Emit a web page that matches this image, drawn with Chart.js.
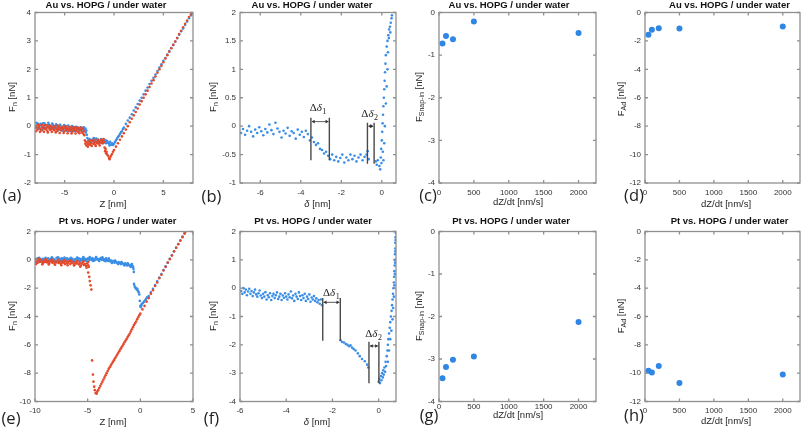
<!DOCTYPE html>
<html><head><meta charset="utf-8">
<script src="https://cdn.jsdelivr.net/npm/chart.js@4.4.0/dist/chart.umd.min.js"></script>
<style>
html,body{margin:0;padding:0;background:#fff;overflow:hidden;width:803px;height:428px;}
#wrap{position:relative;width:803px;height:428px;overflow:hidden;}
canvas{position:absolute;}
.lbl{position:absolute;font-family:"Liberation Sans",Arial,sans-serif;font-size:9.5px;color:#262626;white-space:nowrap;transform:translate(-50%,-50%);line-height:1;}
.rot{transform:translate(-50%,-50%) rotate(-90deg);}
.lbl sub{font-size:7px;vertical-align:-2px;line-height:0;}
.pl{position:absolute;font-family:"Open Sans",sans-serif;font-size:16.5px;color:#222;transform:translate(-50%,-50%);line-height:1;white-space:nowrap;}
</style></head>
<body><div id="wrap"></div>
<script>
// ---------- DATA ----------
// (a) Au vs HOPG force-distance curve: Z [nm], Fn [nN]
const aBlue = [[-7.9,0.02],[-7.8,-0.05],[-7.7,0.08],[-7.6,0.0],[-7.5,-0.08],[-7.4,0.05],[-7.3,-0.02],[-7.2,0.1],[-7.1,-0.06],[-7.0,0.03],[-6.9,-0.1],[-6.8,0.04],[-6.7,-0.03],[-6.6,0.06],[-6.5,-0.07],[-6.4,0.01],[-6.3,-0.04],[-6.2,0.05],[-6.1,-0.09],[-6.0,0.0],[-5.9,-0.05],[-5.8,0.03],[-5.7,-0.1],[-5.6,-0.02],[-5.5,0.02],[-5.4,-0.08],[-5.3,-0.03],[-5.2,-0.12],[-5.1,0.0],[-5.0,-0.06],[-4.9,-0.1],[-4.8,-0.02],[-4.7,-0.08],[-4.6,-0.14],[-4.5,-0.04],[-4.4,-0.1],[-4.3,-0.06],[-4.2,-0.13],[-4.1,-0.03],[-4.0,-0.09],[-3.9,-0.15],[-3.8,-0.05],[-3.7,-0.11],[-3.6,-0.07],[-3.5,-0.14],[-3.4,-0.04],[-3.3,-0.1],[-3.2,-0.16],[-3.1,-0.06],[-3.0,-0.12],[-2.9,-0.08],[-2.8,-0.15],[-2.75,-0.3],[-2.7,-0.42],[-2.6,-0.5],[-2.5,-0.45],[-2.4,-0.55],[-2.3,-0.48],[-2.2,-0.52],[-2.1,-0.46],[-2.0,-0.56],[-1.9,-0.5],[-1.8,-0.44],[-1.7,-0.54],[-1.6,-0.48],[-1.5,-0.58],[-1.4,-0.5],[-1.3,-0.45],[-1.2,-0.55],[-1.1,-0.6],[-1.0,-0.5],[-0.9,-0.56],[-0.8,-0.6],[-0.7,-0.52],[-0.6,-0.58],[-0.5,-0.62],[-0.4,-0.55],[-0.3,-0.65],[-0.2,-0.6],[-0.1,-0.66],[0.0,-0.62],[0.1,-0.56],[0.2,-0.5],[0.3,-0.44],[0.4,-0.38],[0.5,-0.34],[0.6,-0.28],[0.7,-0.22],[0.8,-0.18],[0.9,-0.1],[1.0,-0.05],[1.2,0.08],[1.4,0.2],[1.6,0.3],[1.8,0.42],[2.0,0.55],[2.2,0.66],[2.4,0.78],[2.6,0.9],[2.8,1.0],[3.0,1.12],[3.2,1.25],[3.4,1.36],[3.6,1.48],[3.8,1.6],[4.0,1.7],[4.2,1.82],[4.4,1.94],[4.6,2.06],[4.8,2.18],[5.0,2.3],[5.2,2.4],[5.4,2.52],[5.6,2.64],[5.8,2.75],[6.0,2.86],[6.2,2.98],[6.4,3.1],[6.6,3.22],[6.8,3.34],[7.0,3.44],[7.2,3.56],[7.4,3.68],[7.6,3.8],[7.8,3.9],[7.95,3.98],
  [-7.85,0.12],[-7.65,-0.1],[-7.45,0.08],[-7.25,-0.12],[-7.05,0.1],[-6.85,-0.08],[-6.65,0.12],[-6.45,-0.12],[-6.25,0.09],[-6.05,-0.1],[-5.85,0.07],[-5.65,-0.14],[-5.45,0.05],[-5.25,-0.15],[-5.05,0.04],[-4.85,-0.16],[-4.65,0.02],[-4.45,-0.18],[-4.25,0.0],[-4.05,-0.18],[-3.85,-0.02],[-3.65,-0.2],[-3.45,-0.08],[-3.25,-0.2],[-3.05,-0.04],[-2.85,-0.22],[-2.45,-0.6],[-2.05,-0.42],[-1.65,-0.6],[-1.25,-0.48],[-0.85,-0.5],[-0.45,-0.68]];
const aRed = [[-7.95,-0.05],[-7.85,0.0],[-7.75,-0.12],[-7.65,-0.04],[-7.55,0.03],[-7.45,-0.09],[-7.35,-0.15],[-7.25,-0.02],[-7.15,-0.07],[-7.05,0.02],[-6.95,-0.11],[-6.85,-0.05],[-6.75,-0.16],[-6.65,-0.01],[-6.55,-0.08],[-6.45,-0.13],[-6.35,-0.03],[-6.25,-0.1],[-6.15,-0.06],[-6.05,-0.14],[-5.95,-0.02],[-5.85,-0.09],[-5.75,-0.17],[-5.65,-0.05],[-5.55,-0.11],[-5.45,-0.07],[-5.35,-0.15],[-5.25,-0.04],[-5.15,-0.1],[-5.05,-0.18],[-4.95,-0.06],[-4.85,-0.12],[-4.75,-0.08],[-4.65,-0.16],[-4.55,-0.1],[-4.45,-0.05],[-4.35,-0.14],[-4.25,-0.2],[-4.15,-0.09],[-4.05,-0.13],[-3.95,-0.06],[-3.85,-0.17],[-3.75,-0.11],[-3.65,-0.2],[-3.55,-0.08],[-3.45,-0.15],[-3.35,-0.12],[-3.25,-0.22],[-3.15,-0.1],[-3.05,-0.18],[-3.0,-0.32],[-2.95,-0.5],[-2.9,-0.62],[-2.8,-0.68],[-2.7,-0.58],[-2.6,-0.64],[-2.5,-0.55],[-2.4,-0.66],[-2.3,-0.6],[-2.2,-0.52],[-2.1,-0.62],[-2.0,-0.58],[-1.9,-0.65],[-1.8,-0.55],[-1.7,-0.6],[-1.6,-0.53],[-1.5,-0.62],[-1.4,-0.57],[-1.3,-0.5],[-1.2,-0.6],[-1.1,-0.52],[-1.0,-0.56],[-0.95,-0.75],[-0.9,-0.88],[-0.85,-0.8],[-0.8,-0.95],[-0.75,-0.9],[-0.7,-1.0],[-0.6,-1.04],[-0.5,-1.12],[-0.45,-1.16],[-0.4,-1.1],[-0.3,-1.04],[-0.2,-0.98],[-0.1,-0.9],[0.0,-0.84],[0.2,-0.72],[0.4,-0.6],[0.6,-0.48],[0.8,-0.36],[1.0,-0.25],[1.2,-0.12],[1.4,0.0],[1.6,0.14],[1.8,0.26],[2.0,0.38],[2.2,0.5],[2.4,0.62],[2.6,0.76],[2.8,0.88],[3.0,1.0],[3.2,1.12],[3.4,1.25],[3.6,1.38],[3.8,1.5],[4.0,1.62],[4.2,1.75],[4.4,1.88],[4.6,2.0],[4.8,2.12],[5.0,2.25],[5.2,2.38],[5.4,2.5],[5.6,2.62],[5.8,2.74],[6.0,2.86],[6.2,2.98],[6.4,3.1],[6.6,3.24],[6.8,3.36],[7.0,3.48],[7.2,3.6],[7.4,3.72],[7.6,3.84],[7.8,3.94],[7.9,4.0],
  [-7.9,-0.18],[-7.7,0.06],[-7.5,-0.2],[-7.3,0.05],[-7.1,-0.2],[-6.9,0.04],[-6.7,-0.22],[-6.5,0.02],[-6.3,-0.2],[-6.1,0.0],[-5.9,-0.22],[-5.7,0.02],[-5.5,-0.24],[-5.3,-0.02],[-5.1,-0.24],[-4.9,0.0],[-4.7,-0.25],[-4.5,-0.02],[-4.3,-0.26],[-4.1,-0.03],[-3.9,-0.26],[-3.7,-0.04],[-3.5,-0.25],[-3.3,-0.05],[-3.1,-0.27],[-2.85,-0.55],[-2.65,-0.72],[-2.45,-0.5],[-2.25,-0.7],[-2.05,-0.48],[-1.85,-0.7],[-1.65,-0.47],[-1.45,-0.68],[-1.25,-0.48],[-1.05,-0.45]];
// (b) Au vs HOPG: delta [nm], Fn [nN]
const bBlue = [[-6.95,-0.12],[-6.85,-0.05],[-6.75,-0.15],[-6.65,-0.08],[-6.55,0.0],[-6.45,-0.1],[-6.35,-0.18],[-6.25,-0.06],[-6.15,-0.12],[-6.05,-0.02],[-5.95,-0.09],[-5.85,-0.16],[-5.75,-0.05],[-5.65,-0.11],[-5.55,0.03],[-5.45,-0.07],[-5.35,-0.14],[-5.25,0.06],[-5.15,-0.04],[-5.05,-0.1],[-4.95,-0.2],[-4.85,-0.08],[-4.75,-0.13],[-4.65,-0.03],[-4.55,-0.17],[-4.45,-0.09],[-4.35,-0.12],[-4.25,-0.22],[-4.15,-0.06],[-4.05,-0.15],[-3.95,-0.1],[-3.85,-0.19],[-3.75,-0.08],[-3.65,-0.14],[-3.55,-0.25],[-3.45,-0.2],[-3.35,-0.28],[-3.25,-0.33],[-3.15,-0.3],[-3.05,-0.4],[-2.95,-0.42],[-2.85,-0.48],[-2.75,-0.45],[-2.65,-0.52],[-2.55,-0.58],[-2.45,-0.5],[-2.35,-0.6],[-2.25,-0.54],[-2.15,-0.62],[-2.05,-0.56],[-1.95,-0.5],[-1.85,-0.64],[-1.75,-0.55],[-1.65,-0.6],[-1.55,-0.5],[-1.45,-0.58],[-1.35,-0.52],[-1.25,-0.62],[-1.15,-0.55],[-1.05,-0.5],[-0.95,-0.6],[-0.85,-0.54],[-0.75,-0.5],[-0.7,-0.44],[-0.65,-0.58],[-0.3,-0.62],[-0.25,-0.68],[-0.2,-0.6],[-0.12,-0.7],[-0.08,-0.76],[-0.05,-0.55],[-0.03,-0.4],[0.0,-0.25],[0.02,-0.1],[0.04,0.05],[0.06,0.2],[0.08,0.35],[0.1,0.5],[0.12,0.65],[0.14,0.8],[0.16,0.95],[0.18,1.1],[0.2,1.25],[0.24,1.4],[0.28,1.5],[0.32,1.6],[0.36,1.7],[0.4,1.75],[0.44,1.82],[0.48,1.9],[0.08,-0.6],[0.12,-0.3],[0.15,0.0],[0.2,0.4],[0.24,0.7],[0.28,1.0],[0.3,1.3],[0.35,1.55],[0.42,1.65],[0.5,1.95],[-0.02,-0.65],[0.05,-0.45]];
const bDeltaX1 = [-3.5, -0.71];
const bDeltaX2 = [-2.59, -0.38];
const bDeltaTop = [0.15, 0.06];
const bDeltaBottom = [-0.6, -0.66];
const bDeltaArrowY = [0.08, 0.0];
const bDeltaLabelX = [-3.15, -0.6];
const bDeltaLabelY = [0.33, 0.22];
const deltaIndex = ['1', '2'];
// (c),(d),(g),(h): approach speed dZ/dt [nm/s]
const rates = [50, 100, 200, 500, 2000];
const cSnapIn = [-0.73, -0.55, -0.63, -0.21, -0.48];
const dAdhesion = [-1.56, -1.21, -1.1, -1.12, -0.98];
const gSnapIn = [-3.45, -3.19, -3.02, -2.94, -2.13];
const hAdhesion = [-9.83, -9.95, -9.5, -10.7, -10.1];
// (e) Pt vs HOPG force-distance curve
const eBlue = [[-9.95,0.05],[-9.85,-0.08],[-9.75,0.1],[-9.65,-0.02],[-9.55,0.06],[-9.45,-0.1],[-9.35,0.0],[-9.25,0.08],[-9.15,-0.05],[-9.05,0.04],[-8.95,-0.12],[-8.85,0.02],[-8.75,0.1],[-8.65,-0.06],[-8.55,0.05],[-8.45,-0.03],[-8.35,0.12],[-8.25,-0.08],[-8.15,0.03],[-8.05,-0.1],[-7.95,0.15],[-7.85,0.0],[-7.75,-0.06],[-7.65,0.08],[-7.55,-0.04],[-7.45,0.1],[-7.35,-0.02],[-7.25,0.06],[-7.15,-0.08],[-7.05,0.03],[-6.95,0.1],[-6.85,-0.05],[-6.75,0.05],[-6.65,-0.1],[-6.55,0.02],[-6.45,0.08],[-6.35,-0.04],[-6.25,0.0],[-6.15,0.06],[-6.05,-0.08],[-5.95,0.03],[-5.85,0.1],[-5.75,-0.05],[-5.65,0.05],[-5.55,-0.02],[-5.45,0.12],[-5.35,0.0],[-5.25,0.08],[-5.15,-0.03],[-5.05,0.06],[-4.95,0.1],[-4.85,-0.02],[-4.75,0.08],[-4.65,0.0],[-4.55,0.12],[-4.45,0.04],[-4.35,-0.04],[-4.25,0.1],[-4.15,0.02],[-4.05,0.08],[-3.95,-0.03],[-3.85,0.05],[-3.75,0.12],[-3.65,0.0],[-3.55,0.06],[-3.45,-0.05],[-3.35,0.03],[-3.25,0.1],[-3.15,-0.02],[-3.05,-0.08],[-2.95,0.0],[-2.85,-0.12],[-2.75,-0.05],[-2.65,-0.15],[-2.55,-0.08],[-2.45,-0.2],[-2.35,-0.12],[-2.25,-0.18],[-2.15,-0.25],[-2.05,-0.15],[-1.95,-0.22],[-1.85,-0.3],[-1.75,-0.2],[-1.65,-0.28],[-1.55,-0.35],[-1.45,-0.25],[-1.35,-0.32],[-1.25,-0.4],[-1.15,-0.3],[-1.05,-0.38],[-0.95,-0.45],[-0.85,-0.35],[-0.75,-0.42],[-0.68,-0.5],[-0.65,-0.65],[-0.62,-0.85],[-0.6,-1.7],[-0.55,-1.85],[-0.5,-1.95],[-0.42,-2.0],[-0.35,-2.1],[-0.28,-2.05],[-0.22,-2.2],[-0.15,-2.3],[-0.1,-2.45],[-0.05,-2.9],[0.0,-3.25],[0.05,-3.35],[0.1,-3.2],[0.15,-3.1],[0.25,-3.05],[0.35,-2.95],[0.45,-2.85],[0.55,-2.75],[0.65,-2.65],[0.8,-2.55],[1.0,-2.3],[1.2,-2.05],[1.4,-1.78],[1.6,-1.52],[1.8,-1.25],[2.0,-1.0],[2.2,-0.72],[2.4,-0.46],[2.6,-0.2],[2.8,0.08],[3.0,0.33],[3.2,0.6],[3.4,0.86],[3.6,1.12],[3.8,1.38],[4.0,1.64],[4.2,1.9],
  [-9.9,-0.15],[-9.6,0.15],[-9.3,-0.15],[-9.0,0.15],[-8.7,-0.15],[-8.4,0.18],[-8.1,-0.14],[-7.8,0.18],[-7.5,-0.14],[-7.2,0.16],[-6.9,-0.14],[-6.6,0.15],[-6.3,-0.12],[-6.0,0.16],[-5.7,-0.12],[-5.4,0.2],[-5.1,-0.1],[-4.8,0.2],[-4.5,-0.08],[-4.2,0.2],[-3.9,-0.08],[-3.6,0.18],[-3.3,-0.1],[-3.0,0.1],[-2.7,-0.22],[-2.4,-0.05],[-2.1,-0.3],[-1.8,-0.15],[-1.5,-0.4],[-1.2,-0.25],[-0.9,-0.5],[-0.8,-0.3]];
const eRed = [[-9.95,-0.1],[-9.85,0.0],[-9.75,-0.2],[-9.65,-0.05],[-9.55,-0.15],[-9.45,0.02],[-9.35,-0.12],[-9.25,-0.22],[-9.15,-0.08],[-9.05,-0.16],[-8.95,-0.03],[-8.85,-0.18],[-8.75,-0.1],[-8.65,-0.25],[-8.55,-0.06],[-8.45,-0.14],[-8.35,-0.2],[-8.25,-0.09],[-8.15,-0.27],[-8.05,-0.12],[-7.95,-0.19],[-7.85,-0.05],[-7.75,-0.22],[-7.65,-0.13],[-7.55,-0.28],[-7.45,-0.1],[-7.35,-0.2],[-7.25,-0.16],[-7.15,-0.3],[-7.05,-0.12],[-6.95,-0.24],[-6.85,-0.18],[-6.75,-0.08],[-6.65,-0.3],[-6.55,-0.2],[-6.45,-0.14],[-6.35,-0.26],[-6.25,-0.34],[-6.15,-0.18],[-6.05,-0.25],[-5.95,-0.12],[-5.85,-0.32],[-5.75,-0.22],[-5.65,-0.4],[-5.55,-0.28],[-5.45,-0.18],[-5.35,-0.36],[-5.25,-0.3],[-5.15,-0.44],[-5.05,-0.26],[-4.95,-0.38],[-4.9,-0.5],[-4.95,-0.9],[-4.85,-1.2],[-4.8,-1.5],[-4.72,-1.8],[-4.65,-2.1],[-4.58,-7.1],[-4.5,-8.1],[-4.45,-8.6],[-4.38,-8.95],[-4.32,-9.2],[-4.25,-9.4],[-4.15,-9.45],[-4.0,-9.2],[-3.8,-8.9],[-3.6,-8.6],[-3.4,-8.3],[-3.2,-8.0],[-3.0,-7.7],[-2.8,-7.45],[-2.6,-7.2],[-2.4,-6.95],[-2.2,-6.7],[-2.0,-6.45],[-1.8,-6.2],[-1.6,-5.95],[-1.4,-5.7],[-1.2,-5.45],[-1.0,-5.2],[-0.8,-4.9],[-0.6,-4.6],[-0.4,-4.35],[-0.2,-4.05],[0.0,-3.8],[0.2,-3.5],[0.4,-3.25],[0.6,-2.95],[0.8,-2.7],[1.0,-2.4],[1.2,-2.15],[1.4,-1.85],[1.6,-1.6],[1.8,-1.3],[2.0,-1.05],[2.2,-0.75],[2.4,-0.5],[2.6,-0.2],[2.8,0.05],[3.0,0.3],[3.2,0.6],[3.4,0.85],[3.6,1.1],[3.8,1.35],[4.0,1.6],[4.2,1.85],[4.3,2.0],
  [-9.9,-0.3],[-9.6,0.08],[-9.3,-0.32],[-9.0,0.05],[-8.7,-0.33],[-8.4,0.02],[-8.1,-0.35],[-7.8,0.0],[-7.5,-0.38],[-7.2,-0.02],[-6.9,-0.38],[-6.6,-0.05],[-6.3,-0.4],[-6.0,-0.08],[-5.7,-0.48],[-5.4,-0.1],[-5.1,-0.55],[-4.95,-0.15],[-4.1,-9.32],[-3.9,-9.05],[-3.7,-8.75],[-3.5,-8.45],[-3.3,-8.15],[-3.1,-7.85],[-2.9,-7.58],[-2.7,-7.32],[-2.5,-7.08],[-2.3,-6.82],[-2.1,-6.58],[-1.9,-6.32],[-1.7,-6.08],[-1.5,-5.82],[-1.3,-5.58],[-1.1,-5.32],[-0.9,-5.05],[-0.7,-4.75],[-0.5,-4.48],[-0.3,-4.2],[-0.1,-3.92]];
// (f) Pt vs HOPG: delta [nm], Fn [nN]
const fBlue = [[-5.95,-0.1],[-5.9,-0.2],[-5.85,0.0],[-5.8,-0.15],[-5.75,-0.05],[-5.7,-0.25],[-5.65,-0.12],[-5.6,-0.02],[-5.55,-0.2],[-5.5,-0.1],[-5.45,-0.28],[-5.4,-0.15],[-5.35,-0.05],[-5.3,-0.22],[-5.25,-0.3],[-5.2,-0.18],[-5.15,-0.08],[-5.1,-0.26],[-5.05,-0.35],[-5.0,-0.2],[-4.95,-0.3],[-4.9,-0.14],[-4.85,-0.4],[-4.8,-0.25],[-4.75,-0.32],[-4.7,-0.18],[-4.65,-0.42],[-4.6,-0.28],[-4.55,-0.2],[-4.5,-0.35],[-4.45,-0.25],[-4.4,-0.15],[-4.35,-0.38],[-4.3,-0.3],[-4.25,-0.2],[-4.2,-0.42],[-4.15,-0.26],[-4.1,-0.34],[-4.05,-0.18],[-4.0,-0.3],[-3.95,-0.4],[-3.9,-0.22],[-3.85,-0.32],[-3.8,-0.12],[-3.75,-0.36],[-3.7,-0.26],[-3.65,-0.45],[-3.6,-0.2],[-3.55,-0.3],[-3.5,-0.38],[-3.45,-0.15],[-3.4,-0.28],[-3.35,-0.42],[-3.3,-0.25],[-3.25,-0.35],[-3.2,-0.2],[-3.15,-0.45],[-3.1,-0.3],[-3.05,-0.38],[-3.0,-0.22],[-2.95,-0.48],[-2.9,-0.33],[-2.85,-0.4],[-2.8,-0.28],[-2.75,-0.45],[-2.7,-0.36],[-2.65,-0.5],[-2.6,-0.42],[-2.55,-0.55],[-2.5,-0.4],[-2.45,-0.6],[-1.65,-1.84],[-1.58,-1.9],[-1.5,-1.92],[-1.42,-1.97],[-1.35,-2.0],[-1.28,-2.05],[-1.22,-2.02],[-1.15,-2.1],[-1.08,-2.15],[-1.0,-2.2],[-0.9,-2.3],[-0.82,-2.4],[-0.72,-2.5],[-0.6,-2.58],[-0.5,-2.7],[-0.45,-2.8],[0.0,-3.3],[0.03,-3.2],[0.06,-3.35],[0.1,-3.1],[0.12,-3.25],[0.15,-3.0],[0.18,-3.15],[0.2,-2.9],[0.22,-3.05],[0.25,-2.8],[0.28,-2.95],[0.3,-2.6],[0.32,-2.75],[0.35,-2.4],[0.38,-2.2],[0.4,-2.0],[0.42,-1.8],[0.45,-1.6],[0.48,-1.4],[0.5,-1.2],[0.53,-1.0],[0.56,-0.8],[0.58,-0.6],[0.6,-0.4],[0.62,-0.2],[0.64,0.0],[0.66,0.2],[0.67,0.4],[0.68,0.6],[0.69,0.8],[0.7,1.0],[0.71,1.2],[0.72,1.4],[0.72,1.6],[0.73,1.8],[0.74,1.95],[0.4,-2.6],[0.45,-2.2],[0.5,-1.8],[0.55,-1.5],[0.6,-1.1],[0.63,-0.7],[0.66,-0.3],[0.68,0.1],[0.7,0.5],[0.71,0.9],[0.72,1.3],[0.73,1.7]];
const fDeltaX1 = [-2.42, -0.42];
const fDeltaX2 = [-1.66, 0.01];
const fDeltaTop = [-0.35, -1.89];
const fDeltaBottom = [-1.86, -3.36];
const fDeltaArrowY = [-0.5, -2.04];
const fDeltaLabelX = [-2.05, -0.22];
const fDeltaLabelY = [-0.15, -1.6];
// tick values
const aXTicks = [-5, 0, 5], aYTicks = [-2, -1, 0, 1, 2, 3, 4];
const bXTicks = [-6, -4, -2, 0], bYTicks = [-1, -0.5, 0, 0.5, 1, 1.5, 2];
const rateTicks = [0, 500, 1000, 1500, 2000];
const snapTicks = [-4, -3, -2, -1, 0];
const adTicks = [-12, -10, -8, -6, -4, -2, 0];
const eXTicks = [-10, -5, 0, 5], eYTicks = [-10, -8, -6, -4, -2, 0, 2];
const fXTicks = [-6, -4, -2, 0], fYTicks = [-4, -3, -2, -1, 0, 1, 2];
const titleAu = 'Au vs. HOPG / under water';
const titlePt = 'Pt vs. HOPG / under water';

// ---------- STYLE / LAYOUT ----------
const BLUE = '#3a8ee6', RED = '#e4492b', FONT = '"Liberation Sans", Arial, sans-serif';
const wrap = document.getElementById('wrap');
const pts = arr => arr.map(p => ({x: p[0], y: p[1]}));
const zipXY = (xs, ys) => xs.map((x, i) => ({x, y: ys[i]}));
const dots = (d, c) => ({data: d, backgroundColor: c, borderWidth: 0, pointRadius: 1.3, pointStyle: 'circle'});
const bigDots = (d) => ({data: d, backgroundColor: '#2f86e3', borderWidth: 0, pointRadius: 3});

const frame = {
  id: 'frame',
  afterDatasetsDraw(chart) {
    const {ctx, chartArea: a, scales: {x, y}} = chart;
    ctx.save();
    ctx.strokeStyle = '#8f8f8f';
    ctx.lineWidth = 1.3;
    ctx.beginPath();
    x.ticks.forEach(t => { const p = x.getPixelForValue(t.value); ctx.moveTo(p, a.bottom); ctx.lineTo(p, a.bottom - 3); ctx.moveTo(p, a.top); ctx.lineTo(p, a.top + 3); });
    y.ticks.forEach(t => { const p = y.getPixelForValue(t.value); ctx.moveTo(a.left, p); ctx.lineTo(a.left + 3, p); ctx.moveTo(a.right, p); ctx.lineTo(a.right - 3, p); });
    ctx.stroke();
    ctx.strokeRect(a.left, a.top, a.right - a.left, a.bottom - a.top);
    ctx.restore();
  }
};

function deltaPlugin(x1s, x2s, tops, bots, arrowYs, lxs, lys) {
  return {
    id: 'delta',
    afterDatasetsDraw(chart) {
      const {ctx, scales: {x, y}} = chart;
      ctx.save();
      x1s.forEach((_, i) => {
        const X1 = x.getPixelForValue(x1s[i]), X2 = x.getPixelForValue(x2s[i]);
        const T = y.getPixelForValue(tops[i]), B = y.getPixelForValue(bots[i]);
        const A = y.getPixelForValue(arrowYs[i]);
        ctx.strokeStyle = '#4a4a4a'; ctx.fillStyle = '#333'; ctx.lineWidth = 1.4;
        ctx.beginPath(); ctx.moveTo(X1, T); ctx.lineTo(X1, B); ctx.moveTo(X2, T); ctx.lineTo(X2, B); ctx.stroke();
        ctx.lineWidth = 0.9;
        ctx.beginPath(); ctx.moveTo(X1 + 1, A); ctx.lineTo(X2 - 1, A); ctx.stroke();
        ctx.beginPath(); ctx.moveTo(X1 + 0.8, A); ctx.lineTo(X1 + 3.8, A - 1.8); ctx.lineTo(X1 + 3.8, A + 1.8); ctx.closePath(); ctx.fill();
        ctx.beginPath(); ctx.moveTo(X2 - 0.8, A); ctx.lineTo(X2 - 3.8, A - 1.8); ctx.lineTo(X2 - 3.8, A + 1.8); ctx.closePath(); ctx.fill();
        const cx = x.getPixelForValue(lxs[i]), cy = y.getPixelForValue(lys[i]);
        const f1 = '11px "Liberation Serif", "Times New Roman", serif';
        const f2 = 'italic 11px "Liberation Serif", "Times New Roman", serif';
        const f3 = '8px "Liberation Serif", "Times New Roman", serif';
        ctx.font = f1; const w1 = ctx.measureText('Δ').width;
        ctx.font = f2; const w2 = ctx.measureText('δ').width;
        ctx.font = f3; const w3 = ctx.measureText(deltaIndex[i]).width;
        let sx = cx - (w1 + w2 + w3 + 0.5) / 2;
        ctx.fillStyle = '#222'; ctx.textBaseline = 'alphabetic'; ctx.textAlign = 'left';
        ctx.font = f1; ctx.fillText('Δ', sx, cy + 3.5); sx += w1;
        ctx.font = f2; ctx.fillText('δ', sx, cy + 3.5); sx += w2 + 0.5;
        ctx.font = f3; ctx.fillText(deltaIndex[i], sx, cy + 6.5);
      });
      ctx.restore();
    }
  };
}

function makeChart(p) {
  const cv = document.createElement('canvas');
  cv.width = p.W; cv.height = p.H;
  cv.style.left = p.L + 'px'; cv.style.top = p.T + 'px';
  wrap.appendChild(cv);
  const tickFont = {family: FONT, size: 8};
  return new Chart(cv, {
    type: 'scatter',
    data: {datasets: p.datasets},
    options: {
      responsive: false, animation: false, events: [],
      layout: {padding: 0},
      plugins: {
        legend: {display: false}, tooltip: {enabled: false},
        title: {display: true, text: p.title, color: '#111',
          font: {family: FONT, size: 9.5, weight: 'bold', lineHeight: 1.2},
          padding: {top: 0, bottom: (p.pT - p.T) - 11.4}}
      },
      scales: {
        x: {type: 'linear', min: p.xMin, max: p.xMax,
          afterBuildTicks: s => { s.ticks = p.xTicks.map(v => ({value: v})); },
          afterFit: s => { s.height = p.T + p.H - p.pB; },
          grid: {display: false, drawTicks: false}, border: {display: false},
          ticks: {font: tickFont, color: '#333', padding: p.xPad, maxRotation: 0, autoSkip: false, callback: v => String(v)}},
        y: {type: 'linear', min: p.yMin, max: p.yMax,
          afterBuildTicks: s => { s.ticks = p.yTicks.map(v => ({value: v})); },
          afterFit: s => { s.width = p.pL - p.L; },
          grid: {display: false, drawTicks: false}, border: {display: false},
          ticks: {font: tickFont, color: '#333', padding: 4, autoSkip: false, callback: v => String(v)}},
        r: {type: 'linear', position: 'right', display: true,
          afterFit: s => { s.width = p.L + p.W - p.pR; },
          grid: {display: false, drawTicks: false}, border: {display: false}, ticks: {display: false}}
      }
    },
    plugins: [frame].concat(p.extra || [])
  });
}

const panels = [
  {L: 0, W: 212, T: -0.5, H: 213.5, pL: 35, pR: 193, pT: 12, pB: 183, xPad: 5, title: titleAu,
   xMin: -8, xMax: 8, yMin: -2, yMax: 4, xTicks: aXTicks, yTicks: aYTicks,
   datasets: [dots(pts(aRed), RED), dots(pts(aBlue), BLUE)]},
  {L: 203, W: 218, T: -0.5, H: 213.5, pL: 240, pR: 396, pT: 12, pB: 183, xPad: 5, title: titleAu,
   xMin: -7, xMax: 0.7, yMin: -1, yMax: 2, xTicks: bXTicks, yTicks: bYTicks,
   datasets: [dots(pts(bBlue), BLUE)],
   extra: [deltaPlugin(bDeltaX1, bDeltaX2, bDeltaTop, bDeltaBottom, bDeltaArrowY, bDeltaLabelX, bDeltaLabelY)]},
  {L: 404, W: 210, T: -0.5, H: 213.5, pL: 439, pR: 596, pT: 12, pB: 183, xPad: 5, title: titleAu,
   xMin: 0, xMax: 2250, yMin: -4, yMax: 0, xTicks: rateTicks, yTicks: snapTicks,
   datasets: [bigDots(zipXY(rates, cSnapIn))]},
  {L: 610, W: 239, T: -0.5, H: 213.5, pL: 645, pR: 800, pT: 12, pB: 183, xPad: 5, title: titleAu,
   xMin: 0, xMax: 2250, yMin: -12, yMax: 0, xTicks: rateTicks, yTicks: adTicks,
   datasets: [bigDots(zipXY(rates, dAdhesion))]},
  {L: 0, W: 235, T: 216, H: 212, pL: 35, pR: 193, pT: 231.5, pB: 401.5, xPad: 4, title: titlePt,
   xMin: -10, xMax: 5, yMin: -10, yMax: 2, xTicks: eXTicks, yTicks: eYTicks,
   datasets: [dots(pts(eRed), RED), dots(pts(eBlue), BLUE)]},
  {L: 203, W: 220, T: 216, H: 212, pL: 240, pR: 396, pT: 231.5, pB: 401.5, xPad: 4, title: titlePt,
   xMin: -6, xMax: 0.75, yMin: -4, yMax: 2, xTicks: fXTicks, yTicks: fYTicks,
   datasets: [dots(pts(fBlue), BLUE)],
   extra: [deltaPlugin(fDeltaX1, fDeltaX2, fDeltaTop, fDeltaBottom, fDeltaArrowY, fDeltaLabelX, fDeltaLabelY)]},
  {L: 404, W: 214, T: 216, H: 212, pL: 439, pR: 596, pT: 231.5, pB: 401.5, xPad: 0, title: titlePt,
   xMin: 0, xMax: 2250, yMin: -4, yMax: 0, xTicks: rateTicks, yTicks: snapTicks,
   datasets: [bigDots(zipXY(rates, gSnapIn))]},
  {L: 610, W: 239, T: 216, H: 212, pL: 645, pR: 800, pT: 231.5, pB: 401.5, xPad: 4, title: titlePt,
   xMin: 0, xMax: 2250, yMin: -12, yMax: 0, xTicks: rateTicks, yTicks: adTicks,
   datasets: [bigDots(zipXY(rates, hAdhesion))]}
];
panels.forEach(makeChart);

// axis titles and panel letters (HTML text)
const axisTitles = [
  ['F<sub>n</sub> [nN]', 12, 97, 1], ['Z [nm]', 113, 203.5, 0],
  ['F<sub>n</sub> [nN]', 213, 97, 1], ['<i>δ</i> [nm]', 317.5, 203.5, 0],
  ['F<sub>Snap-in</sub> [nN]', 419, 97, 1], ['dZ/dt [nm/s]', 518, 202, 0],
  ['F<sub>Ad</sub> [nN]', 621, 99, 1], ['dZ/dt [nm/s]', 726, 203.5, 0],
  ['F<sub>n</sub> [nN]', 12, 316, 1], ['Z [nm]', 113, 422, 0],
  ['F<sub>n</sub> [nN]', 213, 316, 1], ['<i>δ</i> [nm]', 317, 422, 0],
  ['F<sub>Snap-in</sub> [nN]', 419, 316, 1], ['dZ/dt [nm/s]', 518, 415, 0],
  ['F<sub>Ad</sub> [nN]', 621, 316, 1], ['dZ/dt [nm/s]', 726, 421, 0]
];
axisTitles.forEach(([t, x, y, r]) => {
  const d = document.createElement('div');
  d.className = 'lbl' + (r ? ' rot' : '');
  d.innerHTML = t; d.style.left = x + 'px'; d.style.top = y + 'px';
  wrap.appendChild(d);
});
const panelLetters = [['(a)', 12, 195], ['(b)', 211.5, 195.5], ['(c)', 428, 194.5], ['(d)', 634, 195],
  ['(e)', 11, 418], ['(f)', 211.5, 418], ['(g)', 429, 415], ['(h)', 634, 415]];
panelLetters.forEach(([t, x, y]) => {
  const d = document.createElement('div');
  d.className = 'pl'; d.textContent = t; d.style.left = x + 'px'; d.style.top = y + 'px';
  wrap.appendChild(d);
});
</script>
</body></html>
